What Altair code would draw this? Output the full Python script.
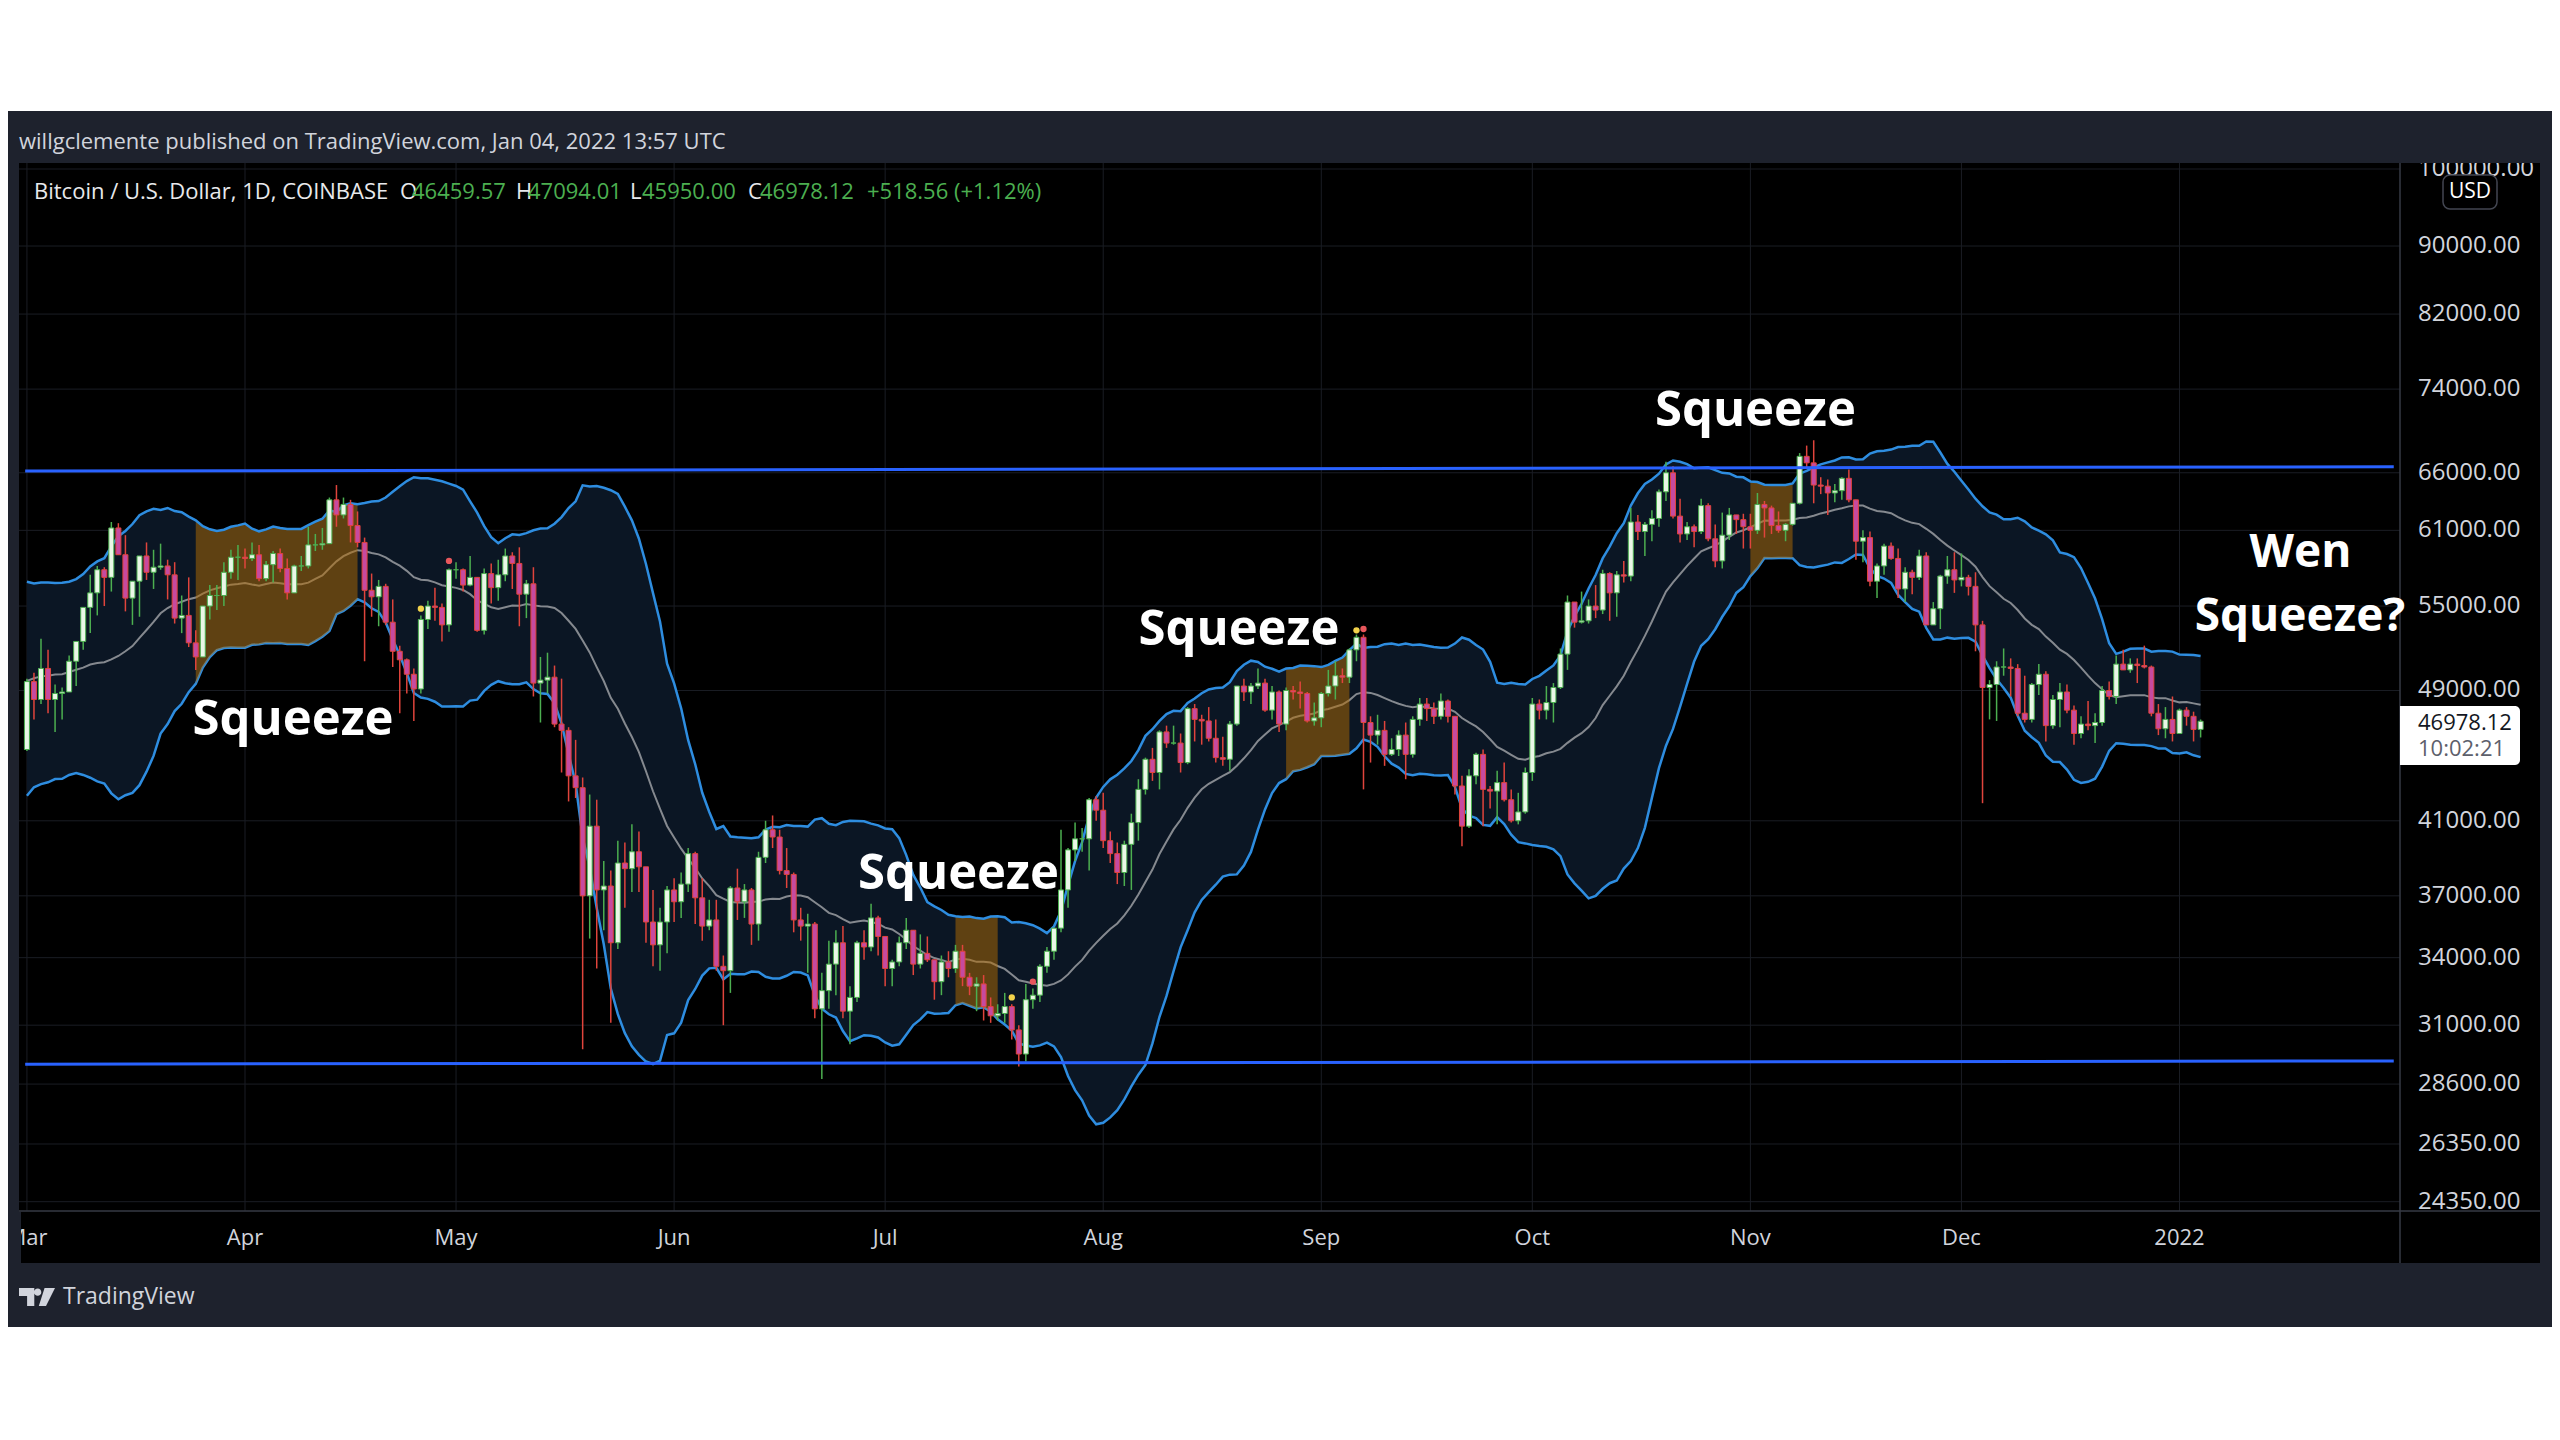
import altair as alt
import numpy as np
import pandas as pd

# ---------------- data (prices in thousand USD) ----------------
feb_close = [33.5, 35.5, 37.6, 36.9, 38.3, 39.2, 38.8, 46.4, 46.5, 44.8, 47.9, 47.4, 47.1, 48.7,
             47.9, 49.2, 52.1, 51.6, 55.9, 55.9, 57.4, 54.1, 48.9, 49.7, 47.0, 46.3, 46.2, 45.2]

mar_close = [49.6, 48.4, 50.5, 48.4, 48.8, 48.9, 51.0, 52.4, 54.9, 56.0, 57.8, 57.2, 61.2, 59.0, 55.6, 56.9,
             58.9, 57.6, 58.0, 58.1, 57.4, 54.1, 54.3, 52.3, 51.3, 55.0, 55.8, 55.8, 57.6, 58.8, 58.8]
mar_high = [49.8, 50.2, 52.6, 51.8, 49.4, 49.2, 51.4, 52.4, 54.9, 57.4, 58.1, 58.0, 61.7, 61.6, 60.6, 56.9,
            58.9, 60.0, 59.4, 59.9, 58.6, 58.4, 55.8, 57.2, 53.2, 55.0, 56.6, 56.6, 58.4, 59.4, 59.8]
mar_low = [45.1, 47.1, 48.1, 47.5, 46.3, 47.1, 48.9, 49.3, 51.8, 53.0, 54.3, 55.0, 56.1, 59.0, 54.6, 53.6,
           54.2, 57.0, 56.3, 57.8, 55.5, 53.7, 53.0, 52.0, 50.4, 51.3, 54.0, 54.7, 55.0, 57.1, 57.0]

apr_close = [58.7, 59.0, 57.1, 58.2, 59.1, 57.9, 56.0, 58.1, 58.1, 59.8, 59.8, 59.9, 63.6, 62.3, 63.2,
             61.4, 60.0, 56.2, 55.7, 56.5, 53.8, 51.7, 51.1, 50.1, 49.1, 54.0, 55.0, 54.9, 53.6, 57.8]
apr_high = [59.5, 60.0, 59.8, 58.5, 59.3, 59.5, 58.7, 58.2, 58.9, 61.3, 60.7, 61.2, 63.8, 64.9, 63.8,
            63.6, 62.6, 60.4, 57.5, 57.0, 56.7, 55.5, 52.1, 51.2, 50.5, 54.3, 55.4, 56.4, 55.2, 57.9]
apr_low = [57.9, 58.5, 56.9, 56.9, 56.8, 57.6, 55.5, 56.0, 57.7, 57.9, 59.3, 59.4, 59.9, 61.3, 62.0,
           60.0, 59.6, 51.0, 54.2, 53.5, 53.6, 50.6, 47.5, 48.8, 47.0, 48.8, 53.3, 53.9, 52.4, 53.1]

may_close = [57.8, 56.6, 57.2, 53.2, 57.5, 56.4, 57.4, 58.9, 58.3, 55.9, 56.7, 49.5, 49.7, 49.9, 46.8, 46.4,
             43.6, 42.9, 37.0, 40.7, 37.3, 37.5, 34.7, 38.7, 38.4, 39.3, 38.5, 35.7, 34.6, 35.7, 37.3]
may_high = [58.4, 57.9, 58.9, 57.2, 57.9, 58.3, 58.6, 59.5, 59.2, 59.6, 57.0, 58.0, 51.3, 51.6, 50.7, 49.8,
            46.6, 45.8, 43.5, 42.5, 42.2, 38.8, 38.3, 39.9, 39.8, 40.8, 40.4, 38.0, 37.3, 36.4, 37.5]
may_low = [57.1, 56.1, 56.5, 53.1, 52.9, 55.2, 55.4, 56.9, 56.3, 53.5, 54.1, 48.6, 46.9, 48.8, 46.6, 43.8,
           42.1, 42.3, 30.0, 34.9, 33.5, 35.3, 31.1, 34.4, 36.4, 37.2, 37.2, 34.7, 33.6, 33.4, 34.2]

jun_close = [36.7, 37.6, 39.2, 36.9, 35.5, 35.8, 33.6, 33.4, 37.4, 36.7, 37.3, 35.6, 39.0, 40.5, 40.1,
             38.3, 38.1, 35.8, 35.5, 35.6, 31.7, 32.5, 33.7, 34.7, 31.6, 32.2, 34.7, 34.5, 35.9, 35.0]
jun_high = [37.9, 38.2, 39.5, 39.3, 37.9, 36.8, 36.8, 34.1, 37.5, 38.4, 37.6, 37.4, 39.3, 41.0, 41.3,
            40.5, 39.5, 38.2, 36.4, 36.1, 35.7, 33.3, 34.8, 35.3, 35.5, 32.7, 34.8, 35.3, 36.6, 36.0]
jun_low = [35.7, 35.9, 37.2, 35.6, 34.8, 35.3, 33.4, 31.0, 32.4, 35.8, 35.9, 34.6, 34.8, 38.7, 39.5,
           38.1, 37.4, 35.2, 34.8, 33.3, 31.3, 28.8, 31.7, 32.3, 31.3, 30.2, 32.0, 33.9, 34.3, 34.1]

jul_close = [33.5, 33.8, 34.7, 35.3, 33.7, 34.2, 33.9, 32.9, 33.8, 33.5, 34.3, 33.1, 32.7, 32.8, 31.8, 31.4,
             31.5, 31.8, 30.8, 29.8, 32.1, 32.3, 33.6, 34.3, 35.4, 37.3, 39.4, 40.0, 40.0, 42.2, 41.6]
jul_high = [35.0, 33.9, 35.0, 35.9, 35.3, 35.1, 35.0, 33.9, 34.1, 34.3, 34.6, 34.6, 33.3, 33.1, 33.2, 32.2,
            31.9, 32.4, 31.9, 31.0, 32.8, 32.6, 33.7, 34.5, 35.4, 40.5, 39.5, 40.9, 40.6, 42.3, 42.4]
jul_low = [32.7, 32.7, 33.6, 34.4, 33.2, 33.5, 33.8, 32.1, 32.3, 33.1, 33.3, 32.7, 32.3, 31.6, 31.2, 31.1,
           31.2, 31.1, 30.4, 29.3, 29.5, 31.7, 32.0, 33.3, 33.9, 35.2, 36.4, 38.8, 39.3, 38.3, 41.0]

aug_close = [39.9, 39.2, 38.2, 39.7, 40.9, 42.8, 44.6, 43.8, 46.3, 45.6, 45.6, 44.4, 47.8, 47.1, 47.0, 45.9,
             44.7, 44.6, 46.8, 49.3, 48.9, 49.3, 49.5, 47.7, 48.9, 46.8, 49.0, 48.9, 48.8, 47.0, 47.2]
aug_high = [42.6, 40.4, 39.8, 39.9, 41.4, 43.4, 44.7, 45.3, 46.4, 46.7, 46.7, 46.2, 47.9, 48.1, 47.4, 47.9,
            47.1, 46.0, 47.0, 49.3, 49.8, 49.5, 50.5, 49.8, 49.3, 49.0, 49.2, 49.3, 49.6, 48.9, 48.2]
aug_low = [39.5, 38.7, 37.6, 37.5, 37.3, 39.9, 42.5, 43.3, 42.8, 45.3, 45.5, 43.8, 44.3, 45.7, 45.5, 45.7,
           44.4, 44.2, 43.9, 46.7, 48.3, 48.1, 49.1, 47.6, 47.1, 46.3, 46.4, 48.4, 47.8, 46.9, 46.7]

sep_close = [48.8, 49.3, 50.0, 49.9, 51.8, 52.7, 46.9, 46.1, 46.4, 44.9, 45.2, 46.1, 44.9, 47.1, 48.1,
             47.8, 47.3, 48.3, 47.3, 43.0, 40.7, 43.6, 44.9, 42.8, 42.7, 43.2, 42.2, 41.0, 41.5, 43.8]
sep_high = [48.9, 50.4, 51.0, 50.5, 51.9, 52.9, 52.9, 47.3, 47.4, 47.0, 45.9, 46.4, 46.9, 47.3, 48.5,
            48.5, 48.2, 48.8, 48.4, 47.3, 43.6, 44.0, 45.0, 45.2, 43.0, 43.9, 44.4, 42.8, 42.6, 44.1]
sep_low = [46.6, 48.6, 48.4, 49.5, 49.5, 51.0, 42.8, 44.4, 45.5, 44.2, 44.8, 44.8, 43.4, 44.7, 46.7,
           47.0, 46.8, 47.1, 46.9, 42.5, 39.6, 40.6, 43.1, 40.7, 41.7, 40.8, 42.1, 40.9, 40.8, 41.4]

oct_close = [48.1, 47.7, 48.2, 49.2, 51.5, 55.3, 53.8, 53.9, 55.0, 54.7, 57.5, 56.0, 57.4, 57.3, 61.7, 60.9,
             61.5, 62.0, 64.3, 66.0, 62.2, 60.7, 61.3, 60.9, 63.1, 60.3, 58.5, 60.6, 62.3, 61.9, 61.3]
oct_high = [48.5, 48.4, 49.3, 49.5, 51.9, 55.8, 55.3, 56.1, 55.5, 56.6, 57.8, 57.6, 57.7, 58.5, 62.9, 62.3,
            61.7, 62.7, 64.5, 67.0, 66.6, 63.7, 61.7, 61.5, 63.7, 63.3, 61.5, 62.5, 62.9, 62.3, 62.4]
oct_low = [43.3, 47.1, 47.1, 46.9, 49.1, 50.4, 53.4, 53.7, 53.7, 54.1, 54.4, 53.9, 54.2, 56.8, 56.9, 60.2,
           58.9, 60.1, 61.3, 63.5, 62.0, 60.0, 60.2, 59.6, 60.7, 60.1, 58.0, 57.9, 60.2, 60.7, 59.5]

nov_close = [61.0, 63.2, 62.9, 61.4, 61.0, 61.5, 63.3, 67.5, 66.9, 64.9, 64.8, 64.2, 64.4, 65.5, 63.6,
             60.1, 60.4, 56.9, 58.1, 59.7, 58.7, 56.3, 57.6, 57.2, 58.9, 53.6, 54.8, 57.3, 57.8, 57.0]
nov_high = [62.4, 64.2, 63.5, 63.1, 62.6, 61.6, 63.3, 67.8, 68.5, 69.0, 65.6, 65.4, 65.0, 65.6, 66.3,
            63.6, 61.0, 60.9, 58.3, 59.9, 60.0, 59.5, 58.0, 57.8, 59.4, 59.2, 55.3, 57.4, 58.9, 59.2]
nov_low = [59.5, 60.7, 60.4, 60.7, 60.8, 60.1, 61.4, 63.2, 66.4, 63.3, 64.1, 62.3, 63.4, 63.6, 63.4,
           58.6, 58.4, 56.5, 55.6, 57.4, 58.6, 55.6, 55.3, 55.9, 57.0, 53.6, 53.6, 53.3, 56.7, 56.0]

dec_close = [57.2, 56.5, 53.6, 49.2, 49.4, 50.6, 50.6, 50.5, 47.5, 47.1, 49.4, 50.1, 46.7, 48.4, 48.9, 47.7,
             46.2, 46.8, 46.7, 46.9, 49.0, 48.6, 50.8, 50.4, 50.8, 50.7, 50.6, 47.5, 46.5, 47.1, 46.2]
dec_high = [59.1, 57.4, 57.6, 53.9, 49.7, 51.0, 51.9, 51.2, 50.8, 50.0, 49.5, 50.8, 50.3, 48.7, 49.5, 49.4,
            48.0, 47.3, 48.3, 47.5, 49.3, 49.6, 51.4, 51.8, 51.2, 51.2, 52.1, 50.7, 48.1, 47.9, 48.6]
dec_low = [56.5, 55.8, 51.7, 42.0, 47.1, 47.0, 50.0, 48.6, 47.3, 46.9, 46.9, 48.7, 45.7, 46.5, 46.6, 47.5,
           45.5, 45.9, 46.4, 45.6, 46.7, 48.4, 48.1, 50.4, 50.2, 49.5, 50.5, 47.3, 46.1, 45.9, 45.7]

jan_close = [47.7, 47.3, 46.45957, 46.97812]
jan_high = [47.8, 47.9, 47.6, 47.09401]
jan_low = [46.2, 46.7, 45.7, 45.95]

# axis tick labels
price_ticks = [24350, 26350, 28600, 31000, 34000, 37000, 41000, 49000, 55000,
               61000, 66000, 74000, 82000, 90000, 100000]
month_labels = ["Mar", "Apr", "May", "Jun", "Jul", "Aug", "Sep", "Oct", "Nov", "Dec", "2022"]
month_dates = ["2021-03-01", "2021-04-01", "2021-05-01", "2021-06-01", "2021-07-01", "2021-08-01",
               "2021-09-01", "2021-10-01", "2021-11-01", "2021-12-01", "2022-01-01"]

# squeeze windows (orange fills between the bands)
squeeze_start = ["2021-03-25", "2021-07-11", "2021-08-27", "2021-11-01"]
squeeze_end = ["2021-04-17", "2021-07-17", "2021-09-05", "2021-11-07"]

# drawn horizontal trend lines (endpoints: date, price)
trend_names = ["top", "top", "bottom", "bottom"]
trend_dates = ["2021-02-28T18:00", "2022-01-31T11:00", "2021-02-28T18:00", "2022-01-31T11:00"]
trend_prices = [66150, 66550, 29390, 29520]

# indicator dots above candles
dot_dates = ["2021-04-26", "2021-04-30", "2021-07-19", "2021-07-22", "2021-09-06", "2021-09-07"]
dot_prices = [54800, 58500, 32200, 32900, 53200, 53300]
dot_kind = ["y", "r", "y", "r", "y", "r"]

# annotation texts (anchored at date, price)
note_text = ["Squeeze", "Squeeze", "Squeeze", "Squeeze"]
note_dates = ["2021-04-07T20:00", "2021-07-11T10:00", "2021-08-20T07:00", "2021-11-01T17:00"]
note_prices = [47060, 38120, 53230, 71820]
wen_text = ["Wen", "Squeeze?"]
wen_dates = ["2022-01-18T05:00", "2022-01-18T03:00"]
wen_prices = [59140, 54180]

# ---------------- build tables ----------------
REF = pd.Timestamp("2021-04-01")


def day_of(s):
    return (pd.to_datetime(pd.Series(s)) - REF) / pd.Timedelta(days=1)


closes = feb_close + mar_close + apr_close + may_close + jun_close + jul_close + aug_close + \
    sep_close + oct_close + nov_close + dec_close + jan_close
highs = [np.nan] * len(feb_close) + mar_high + apr_high + may_high + jun_high + jul_high + aug_high + \
    sep_high + oct_high + nov_high + dec_high + jan_high
lows = [np.nan] * len(feb_close) + mar_low + apr_low + may_low + jun_low + jul_low + aug_low + \
    sep_low + oct_low + nov_low + dec_low + jan_low

dates = pd.date_range("2021-02-01", periods=len(closes), freq="D")
df = pd.DataFrame({"date": dates,
                   "close": np.array(closes) * 1000,
                   "high": np.array(highs) * 1000,
                   "low": np.array(lows) * 1000})
df["open"] = df["close"].shift(1)
df["mid"] = df["close"].rolling(20).mean()
sd = df["close"].rolling(20).std(ddof=0)
df["upper"] = df["mid"] + 2 * sd
df["lower"] = df["mid"] - 2 * sd
df["day"] = (df["date"] - REF) / pd.Timedelta(days=1)
shown = df[df["date"] >= "2021-03-01"].copy()
shown["date"] = shown["date"].dt.strftime("%Y-%m-%d")

sq_parts = []
for i, (a, b) in enumerate(zip(squeeze_start, squeeze_end)):
    part = shown[(shown["date"] >= a) & (shown["date"] <= b)].copy()
    part["win"] = i
    sq_parts.append(part)
sq = pd.concat(sq_parts)

ticks = pd.DataFrame({"p": price_ticks, "lab": [f"{p:.2f}" for p in price_ticks]})
months = pd.DataFrame({"day": day_of(month_dates), "lab": month_labels})
trend = pd.DataFrame({"name": trend_names, "day": day_of(trend_dates), "p": trend_prices})
dots = pd.DataFrame({"day": day_of(dot_dates), "p": dot_prices, "kind": dot_kind})
notes = pd.DataFrame({"day": day_of(note_dates), "p": note_prices, "t": note_text})
wen = pd.DataFrame({"day": day_of(wen_dates), "p": wen_prices, "t": wen_text})
one = pd.DataFrame({"a": [0]})

# ---------------- style ----------------
FONT = "Open Sans"
DARK = "#1e222d"
GRID = "#1a1d24"
SEP = "#363a45"
TXT = "#d1d4dc"
GREEN = "#4caf50"
UP_FILL, UP_LINE = "#eaf7e7", "#4caf50"
DN_FILL, DN_LINE = "#c64aa0", "#e0443c"

xs = alt.Scale(domain=[0, 275], range=[232, 2176.5], nice=False, zero=False)
ys = alt.Scale(type="log", domain=[24350, 100000], range=[1090.7, 58], nice=False)

X = alt.X("day:Q", scale=xs, axis=None)


def Y(f):
    return alt.Y(f, scale=ys, axis=None)


def box(x1, x2, y1, y2, **kw):
    return alt.Chart(one).mark_rect(**kw).encode(
        x=alt.value(x1), x2=alt.value(x2), y=alt.value(y1), y2=alt.value(y2))


def label(x, y, text, **kw):
    return alt.Chart(one).mark_text(font=FONT, baseline="middle", **kw).encode(
        x=alt.value(x), y=alt.value(y), text=alt.value(text))


layers = []
layers.append(box(11, 2532, 52, 1152, color="#000000"))

# grid
layers.append(alt.Chart(months).mark_rule(color=GRID, strokeWidth=1).encode(
    x=X, y=alt.value(52), y2=alt.value(1100)))
layers.append(alt.Chart(ticks).mark_rule(color=GRID, strokeWidth=1).encode(
    y=Y("p:Q"), x=alt.value(11), x2=alt.value(2392)))

# bollinger bands
bb = alt.Chart(shown).encode(x=X)
layers.append(bb.mark_area(color="#0b1624").encode(y=Y("upper:Q"), y2="lower:Q"))
layers.append(bb.mark_line(color="#85898f", strokeWidth=2).encode(y=Y("mid:Q")))
layers.append(bb.mark_line(color="#2e8de0", strokeWidth=2.5).encode(y=Y("lower:Q")))
layers.append(alt.Chart(sq).mark_area(color="#b36b00", opacity=0.5).encode(
    x=X, y=Y("upper:Q"), y2="lower:Q", detail="win:N"))
layers.append(bb.mark_line(color="#2e8de0", strokeWidth=2.5).encode(y=Y("upper:Q")))

# candles
up = "datum.close >= datum.open"
cd = alt.Chart(shown).encode(x=X)
layers.append(cd.mark_rule(strokeWidth=1.5).encode(
    y=Y("low:Q"), y2="high:Q",
    color=alt.condition(up, alt.value(UP_LINE), alt.value(DN_LINE))))
layers.append(cd.mark_bar(size=5, strokeWidth=1).encode(
    y=Y("open:Q"), y2="close:Q",
    fill=alt.condition(up, alt.value(UP_FILL), alt.value(DN_FILL)),
    stroke=alt.condition(up, alt.value(UP_LINE), alt.value(DN_LINE))))

# dots
layers.append(alt.Chart(dots).mark_circle(size=40, opacity=1).encode(
    x=X, y=Y("p:Q"),
    color=alt.Color("kind:N", scale=alt.Scale(domain=["y", "r"], range=["#f2d24b", "#e8575c"]),
                    legend=None)))

# trend lines
layers.append(alt.Chart(trend).mark_line(color="#2962ff", strokeWidth=3).encode(
    x=X, y=Y("p:Q"), detail="name:N"))

# separators
layers.append(alt.Chart(one).mark_rule(color=SEP, strokeWidth=1.5).encode(
    x=alt.value(11), x2=alt.value(2532), y=alt.value(1100)))
layers.append(alt.Chart(one).mark_rule(color=SEP, strokeWidth=1.5).encode(
    x=alt.value(2392), y=alt.value(52), y2=alt.value(1152)))

# axis labels
layers.append(alt.Chart(ticks).mark_text(font=FONT, fontSize=24, align="left", baseline="middle",
                                          color=TXT).encode(
    x=alt.value(2410), y=Y("p:Q"), text="lab:N"))
layers.append(alt.Chart(months).mark_text(font=FONT, fontSize=22, fontWeight=500, align="center",
                                           baseline="middle", color=TXT).encode(
    x=X, y=alt.value(1127), text="lab:N"))

# annotations
layers.append(alt.Chart(notes).mark_text(font=FONT, fontSize=49, fontWeight="bold", align="center",
                                          baseline="middle", color="#ffffff").encode(
    x=X, y=Y("p:Q"), text="t:N"))
layers.append(alt.Chart(wen).mark_text(font=FONT, fontSize=46, fontWeight="bold", align="center",
                                        baseline="middle", color="#ffffff").encode(
    x=X, y=Y("p:Q"), text="t:N"))

# frame covers
layers.append(box(-20, 13, 1101, 1152, color=DARK))
layers.append(box(2392, 2544, 0, 52, color=DARK))

# header texts
layers.append(label(11, 31, "willgclemente published on TradingView.com, Jan 04, 2022 13:57 UTC",
                    fontSize=22, align="left", color=TXT))
layers.append(label(26, 81, "Bitcoin / U.S. Dollar, 1D, COINBASE", fontSize=22, align="left",
                    color="#e8e9ec"))
for lx, vx, letter, val in [(392, 404, "O", "46459.57"), (508, 520, "H", "47094.01"),
                            (622, 634, "L", "45950.00"), (740, 752, "C", "46978.12")]:
    layers.append(label(lx, 81, letter, fontSize=22, align="left", color="#e8e9ec"))
    layers.append(label(vx, 81, val, fontSize=22, align="left", color=GREEN))
layers.append(label(859, 81, "+518.56 (+1.12%)", fontSize=22, align="left", color=GREEN))

# USD badge
layers.append(box(2435, 2489, 64, 98, fill="#000000", stroke="#434651", strokeWidth=1.5,
                  cornerRadius=7))
layers.append(label(2462, 81, "USD", fontSize=21, align="center", color="#ffffff"))

# last price badge
layers.append(box(2392, 2512, 595, 654, fill="#ffffff", cornerRadiusTopRight=5,
                  cornerRadiusBottomRight=5))
layers.append(label(2410, 612, "46978.12", fontSize=22, align="left", color="#131722"))
layers.append(label(2410, 638, "10:02:21", fontSize=22, align="left", color="#5d606b"))

# footer logo
logo_path = ("M -1 -0.5 L -0.15 -0.5 L -0.15 0.5 L -0.55 0.5 L -0.55 -0.05 L -1 -0.05 Z "
             "M 0.24 -0.27 A 0.2 0.2 0 1 1 -0.16 -0.27 A 0.2 0.2 0 1 1 0.24 -0.27 Z "
             "M 0.42 -0.5 L 1 -0.5 L 0.5 0.5 L 0.1 0.5 Z")
layers.append(alt.Chart(one).mark_point(shape=logo_path, filled=True, size=1296, opacity=1,
                                        color=TXT, strokeWidth=0).encode(
    x=alt.value(29), y=alt.value(1186)))
layers.append(label(55, 1186, "TradingView", fontSize=23, align="left", color=TXT))

chart = alt.layer(*layers).properties(
    width=2544, height=1216,
    padding={"top": 103, "left": 0, "right": 0, "bottom": 0},
    autosize=alt.AutoSizeParams(type="none"),
    background="white",
).configure_view(fill=DARK, strokeWidth=0)

chart.save("out.html", embed_options={"renderer": "svg", "actions": False})
